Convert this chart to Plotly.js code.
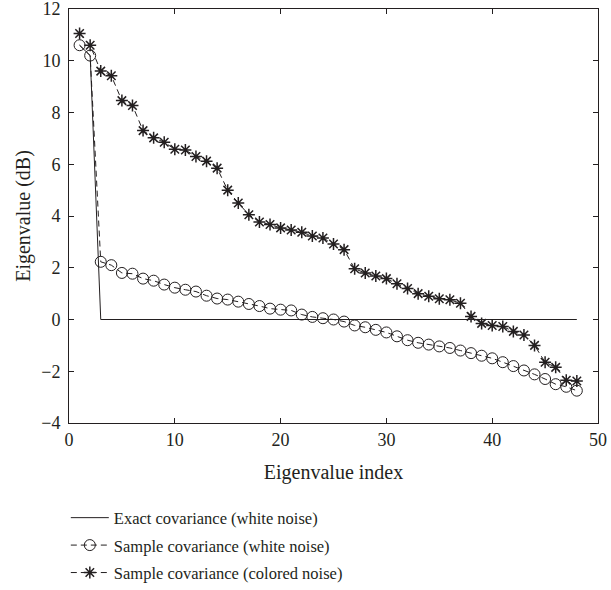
<!DOCTYPE html>
<html>
<head>
<meta charset="utf-8">
<script src="https://cdn.plot.ly/plotly-3.0.1.min.js"></script>
<style>html,body{margin:0;padding:0;background:#fff;}#chart{width:611px;height:590px;}</style>
</head>
<body>
<div id="chart"></div>
<script>
const idx = Array.from({length: 48}, (_, i) => i + 1);
const exactCov = [10.6, 10.2, 0, 0, 0, 0, 0, 0, 0, 0, 0, 0, 0, 0, 0, 0, 0, 0, 0, 0, 0, 0, 0, 0,
  0, 0, 0, 0, 0, 0, 0, 0, 0, 0, 0, 0, 0, 0, 0, 0, 0, 0, 0, 0, 0, 0, 0, 0];
const sampleWhite = [10.6, 10.2, 2.23, 2.1, 1.8, 1.77, 1.58, 1.5, 1.35, 1.23, 1.15, 1.08, 0.92, 0.81, 0.77, 0.69,
  0.6, 0.52, 0.42, 0.38, 0.35, 0.19, 0.1, 0.05, 0.0, -0.08, -0.23, -0.3, -0.4, -0.5, -0.65, -0.8,
  -0.9, -0.97, -1.04, -1.1, -1.2, -1.3, -1.4, -1.5, -1.65, -1.8, -1.97, -2.12, -2.3, -2.5, -2.6, -2.75];
const sampleColored = [11.05, 10.6, 9.6, 9.42, 8.46, 8.27, 7.3, 7.02, 6.85, 6.58, 6.55, 6.3, 6.12, 5.85, 5.0, 4.5,
  4.05, 3.77, 3.67, 3.54, 3.46, 3.37, 3.23, 3.15, 2.92, 2.7, 1.96, 1.8, 1.68, 1.58, 1.38, 1.2,
  1.0, 0.9, 0.8, 0.76, 0.63, 0.12, -0.15, -0.23, -0.27, -0.46, -0.6, -1.0, -1.65, -1.85, -2.35, -2.38];
const seriesNames = ['Exact covariance (white noise)', 'Sample covariance (white noise)', 'Sample covariance (colored noise)'];
const xTicks = [0, 10, 20, 30, 40, 50];
const yTicks = [-4, -2, 0, 2, 4, 6, 8, 10, 12];

const ink = '#231f20';
const font = 'Liberation Serif, Times New Roman, serif';

const traces = [
  {x: idx, y: exactCov, name: seriesNames[0], mode: 'lines', legendgroup: 'a',
   line: {color: ink, width: 1}},
  {x: idx, y: sampleWhite, name: seriesNames[1], mode: 'lines+markers', legendgroup: 'b',
   line: {color: ink, width: 1, dash: '6px,4px'},
   marker: {symbol: 'circle-open', size: 11, color: ink, line: {width: 1, color: ink}}},
  {x: idx, y: sampleColored, name: seriesNames[2], mode: 'lines+markers', legendgroup: 'c',
   line: {color: ink, width: 1, dash: '6px,4px'},
   marker: {symbol: 'asterisk-open', size: 10, color: ink, line: {width: 1.5, color: ink}}}
];

const layout = {
  width: 611, height: 590,
  margin: {l: 69, r: 13, t: 9, b: 167, autoexpand: false},
  paper_bgcolor: '#fff', plot_bgcolor: '#fff',
  font: {family: font, size: 18, color: ink},
  showlegend: true,
  legend: {x: -0.006, y: -0.187, xanchor: 'left', yanchor: 'top', orientation: 'v', itemwidth: 38,
           font: {family: font, size: 16.5, color: ink}, tracegroupgap: 3, bgcolor: 'rgba(0,0,0,0)'},
  xaxis: {range: [0, 50], tickvals: xTicks, ticktext: xTicks.map(String), automargin: false,
          showgrid: false, zeroline: false, showline: true, mirror: 'ticks', linecolor: ink, linewidth: 1,
          ticks: 'inside', ticklen: 5, tickcolor: ink, ticklabelstandoff: 0, ticklabeloverflow: 'allow',
          tickfont: {family: font, size: 18, color: ink},
          title: {text: 'Eigenvalue index', font: {family: font, size: 20, color: ink}, standoff: 16}},
  yaxis: {range: [-4, 12], tickvals: yTicks, automargin: false,
          showgrid: false, zeroline: false, showline: true, mirror: 'ticks', linecolor: ink, linewidth: 1,
          ticks: 'inside', ticklen: 5, tickcolor: ink, ticklabeloverflow: 'allow', ticklabelstandoff: 4,
          tickfont: {family: font, size: 18, color: ink},
          title: {text: 'Eigenvalue (dB)', font: {family: font, size: 20, color: ink}, standoff: 5}}
};

Plotly.newPlot('chart', traces, layout, {displayModeBar: false, staticPlot: true});
</script>
</body>
</html>
